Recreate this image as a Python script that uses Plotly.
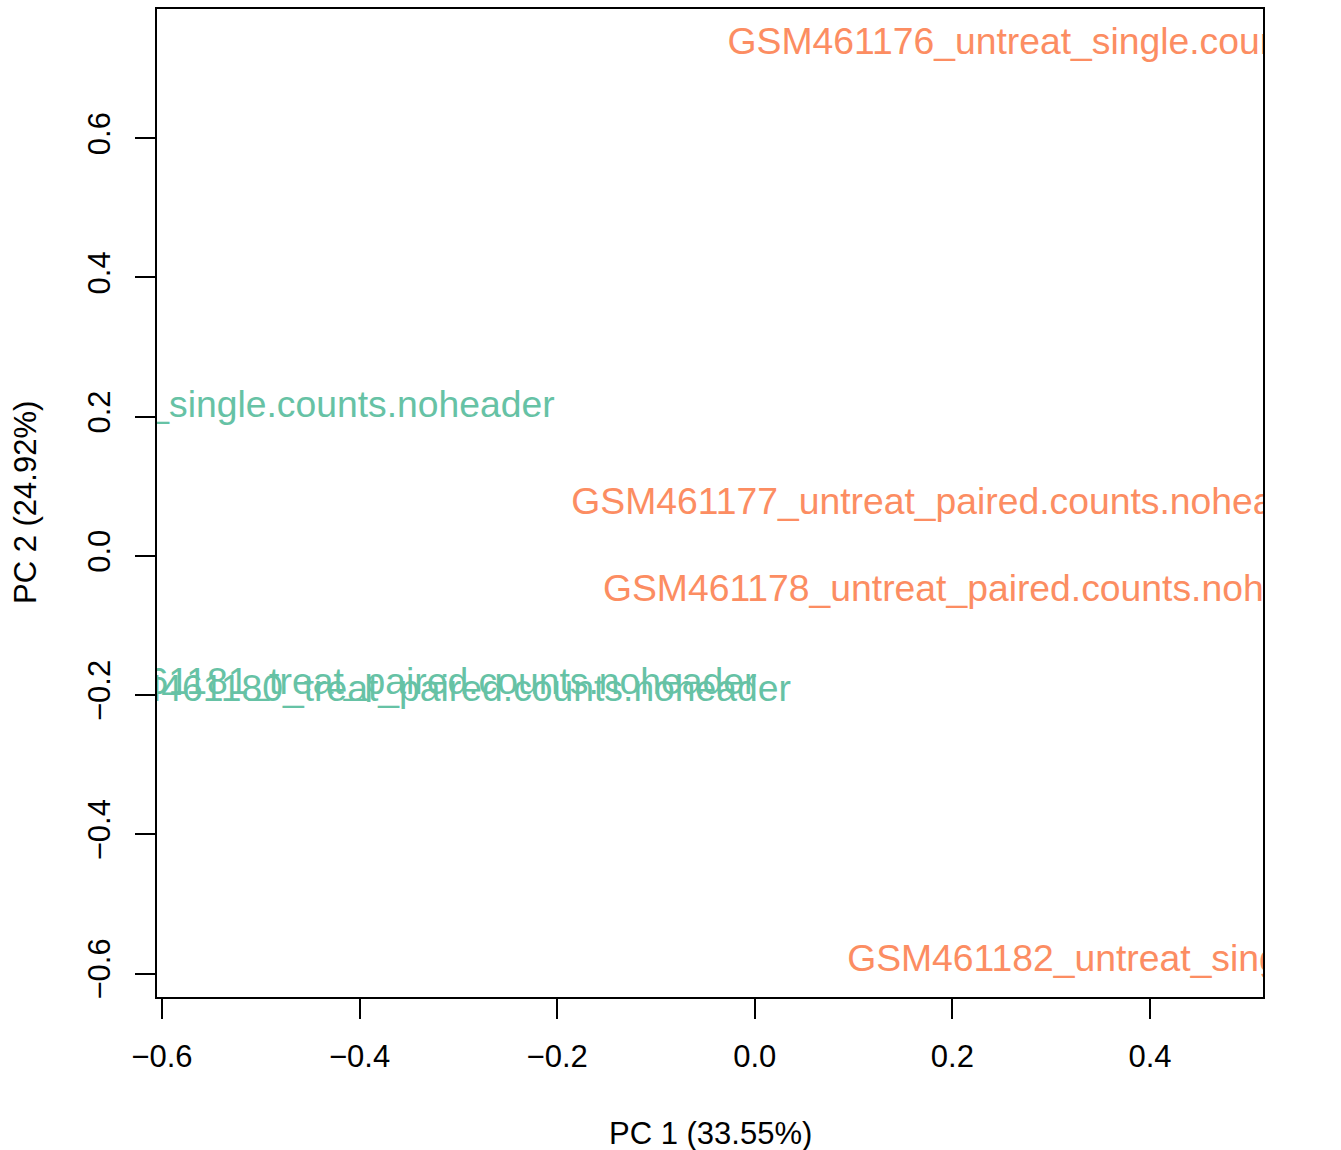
import plotly.graph_objects as go

# Sample labels and PCA coordinates
samples = [
    "GSM461176_untreat_single.counts.noheader",
    "GSM461177_untreat_paired.counts.noheader",
    "GSM461178_untreat_paired.counts.noheader",
    "GSM461179_treat_single.counts.noheader",
    "GSM461180_treat_paired.counts.noheader",
    "GSM461181_treat_paired.counts.noheader",
    "GSM461182_untreat_single.counts.noheader",
]
pc1 = [0.352, 0.197, 0.229, -0.561, -0.325, -0.360, 0.473]
pc2 = [0.734, 0.074, -0.051, 0.213, -0.195, -0.185, -0.583]
condition = ["untreat", "untreat", "untreat", "treat", "treat", "treat", "untreat"]
cond_colors = {"untreat": "#FC8D62", "treat": "#66C2A5"}

x_tickvals = [-0.6, -0.4, -0.2, 0.0, 0.2, 0.4]
x_ticktext = ["\u22120.6", "\u22120.4", "\u22120.2", "0.0", "0.2", "0.4"]
y_tickvals = [-0.6, -0.4, -0.2, 0.0, 0.2, 0.4, 0.6]
y_ticktext = ["\u22120.6", "\u22120.4", "\u22120.2", "0.0", "0.2", "0.4", "0.6"]

FONT = "Liberation Sans, Arial, Helvetica, sans-serif"

fig = go.Figure()
fig.add_trace(go.Scatter(
    x=pc1, y=pc2, mode="text", text=samples,
    textposition="middle center",
    textfont=dict(family=FONT, size=37.3, color=[cond_colors[c] for c in condition]),
    cliponaxis=True, hoverinfo="text", showlegend=False,
))

axis_common = dict(
    showgrid=False, zeroline=False, showline=True, linecolor="black", linewidth=2,
    mirror=True, ticks="outside", ticklen=20, tickwidth=2, tickcolor="black",
    tickfont=dict(family=FONT, size=31, color="black"),
)
fig.update_xaxes(range=[-0.605, 0.5144], tickvals=x_tickvals, ticktext=x_ticktext,
                 ticklabelstandoff=11, **axis_common)
fig.update_yaxes(range=[-0.6337, 0.7857], tickvals=y_tickvals, ticktext=y_ticktext,
                 tickangle=-90, ticklabelstandoff=13, **axis_common)

fig.update_layout(
    width=1341, height=1150,
    margin=dict(l=157, r=78, t=7, b=153),
    plot_bgcolor="white", paper_bgcolor="white",
    annotations=[
        dict(text="PC 1 (33.55%)", xref="paper", yref="paper", x=0.5, y=0,
             yanchor="middle", xanchor="center", yshift=-136, showarrow=False,
             font=dict(family=FONT, size=31, color="black")),
        dict(text="PC 2 (24.92%)", xref="paper", yref="paper", x=0, y=0.5,
             xanchor="center", yanchor="middle", xshift=-132, textangle=-90, showarrow=False,
             font=dict(family=FONT, size=31, color="black")),
    ],
)

fig.write_html("out.html", config={"displayModeBar": False},
               post_script="document.body.style.margin='0';document.body.style.overflow='hidden';")
